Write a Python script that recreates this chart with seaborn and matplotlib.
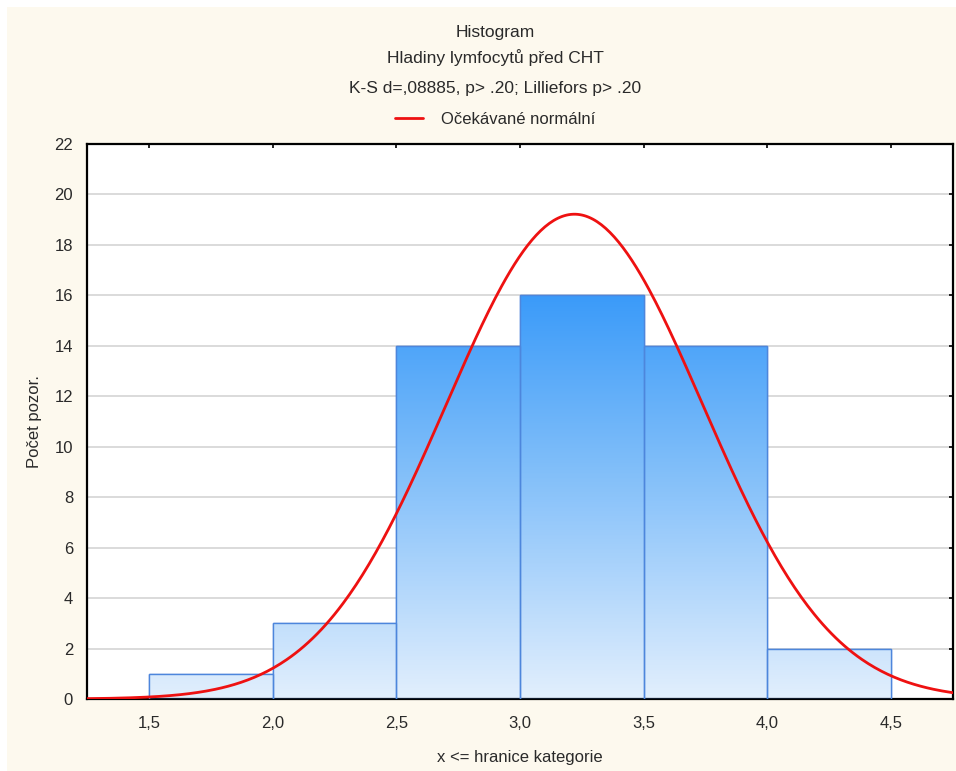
import numpy as np
import pandas as pd
import matplotlib
matplotlib.use("Agg")
import matplotlib.pyplot as plt
import seaborn as sns
from matplotlib.patches import Rectangle
from matplotlib.colors import LinearSegmentedColormap

# ---- data ----
bin_edges = [1.5, 2.0, 2.5, 3.0, 3.5, 4.0, 4.5]
bin_mids = [1.75, 2.25, 2.75, 3.25, 3.75, 4.25]
counts = [1, 3, 14, 16, 14, 2]
fit_mean = 3.22
fit_sd = 0.519
x_ticks = [1.5, 2.0, 2.5, 3.0, 3.5, 4.0, 4.5]
x_ticklabels = ["1,5", "2,0", "2,5", "3,0", "3,5", "4,0", "4,5"]
y_ticks = list(range(0, 23, 2))

sns.set_theme(style="white")
plt.rcParams['font.family'] = ['Liberation Sans', 'DejaVu Sans']

FS = 12
TXT = "#2a2a2a"

fig = plt.figure(figsize=(9.56, 7.71), dpi=100)
fig.patch.set_facecolor("white")
fig.patches.append(Rectangle((7 / 956, 0), 1 - 7 / 956, 1 - 7 / 771,
                             transform=fig.transFigure, facecolor="#fdf9ee",
                             edgecolor="none", zorder=-10))
ax = fig.add_axes([87 / 956, 1 - 699 / 771, (953 - 87) / 956, (699 - 144) / 771])
ax.set_facecolor("white")

df = pd.DataFrame({"x": bin_mids, "w": counts})
sns.histplot(data=df, x="x", weights="w", bins=bin_edges, ax=ax,
             color="#4a90e8", edgecolor="#4a7fd8", linewidth=1.0, alpha=1.0,
             zorder=2)

# gradient fill inside bars (by absolute y)
cmap = LinearSegmentedColormap.from_list("g", ["#e2effd", "#8cc4fa", "#3b9bf9"])
ymax_grad = max(counts)
for p in list(ax.patches):
    x0, y0 = p.get_x(), p.get_y()
    w, h = p.get_width(), p.get_height()
    if h <= 0:
        continue
    grad = np.linspace(0, h / ymax_grad, 200).reshape(-1, 1)
    im = ax.imshow(grad, extent=[x0, x0 + w, 0, h], origin="lower",
                   aspect="auto", cmap=cmap, vmin=0, vmax=1, zorder=2.5,
                   interpolation="bilinear")
    im.set_clip_path(p)
    edge = Rectangle((x0, y0), w, h, facecolor="none", edgecolor="#4d86dc",
                     linewidth=1.0, zorder=3)
    ax.add_patch(edge)

# expected normal curve
xs = np.linspace(1.25, 4.75, 400)
bw = bin_edges[1] - bin_edges[0]
n = sum(counts)
ys = n * bw / (fit_sd * np.sqrt(2 * np.pi)) * np.exp(-0.5 * ((xs - fit_mean) / fit_sd) ** 2)
sns.lineplot(x=xs, y=ys, ax=ax, color="#ee1111", linewidth=2.0, zorder=4,
             label="Očekávané normální", legend=False)

ax.set_xlim(1.25, 4.75)
ax.set_ylim(0, 22)
ax.set_xticks(x_ticks)
ax.set_xticklabels(x_ticklabels)
ax.set_yticks(y_ticks)
ax.yaxis.grid(True, color="#d4d4d4", linewidth=1.2, zorder=0)
ax.xaxis.grid(False)
ax.set_axisbelow(True)
for s in ax.spines.values():
    s.set_visible(True)
    s.set_color("black")
    s.set_linewidth(1.6)
ax.tick_params(axis="both", direction="in", length=3, width=1.2, colors="black",
               labelcolor=TXT, labelsize=FS, top=True, right=True)
ax.tick_params(axis="x", pad=12)
ax.tick_params(axis="y", pad=10)
ax.set_xlabel("x <= hranice kategorie", fontsize=FS, color=TXT, labelpad=14)
ax.set_ylabel("Počet pozor.", fontsize=FS, color=TXT, labelpad=9)

handles, labels = ax.get_legend_handles_labels()
cx = 495 / 956
leg = fig.legend(handles, labels, loc="center", bbox_to_anchor=(cx, 1 - 119 / 771),
                 frameon=False, fontsize=FS, handlelength=1.7, handletextpad=1.1)
for t in leg.get_texts():
    t.set_color(TXT)

TFS = 12.5
fig.text(cx, 1 - 33 / 771, "Histogram", ha="center", va="center", fontsize=TFS, color=TXT)
fig.text(cx, 1 - 58 / 771, "Hladiny lymfocytů před CHT", ha="center", va="center", fontsize=TFS, color=TXT)
fig.text(cx, 1 - 88 / 771, "K-S d=,08885, p> .20; Lilliefors p> .20", ha="center", va="center", fontsize=TFS, color=TXT)

fig.savefig("out.png", dpi=100, facecolor=fig.get_facecolor())
